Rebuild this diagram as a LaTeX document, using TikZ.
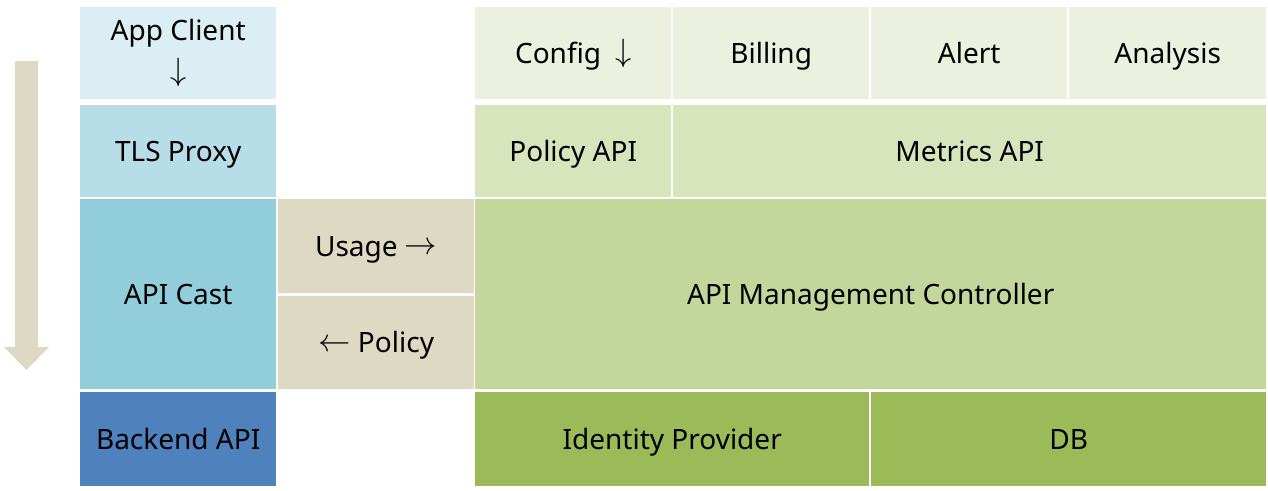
\documentclass[tikz,border=0pt]{standalone}
\usepackage{fontspec}
\usepackage{graphicx}
\setmainfont{Noto Sans}
\usetikzlibrary{positioning}
\definecolor{clientblue}{HTML}{DAEEF3}
\definecolor{proxyblue}{HTML}{B7DDE8}
\definecolor{castblue}{HTML}{92CDDC}
\definecolor{backendblue}{HTML}{4F81BD}
\definecolor{tan}{HTML}{DDD9C3}
\definecolor{greenA}{HTML}{EBF1DE}
\definecolor{greenB}{HTML}{D7E4BC}
\definecolor{greenC}{HTML}{C3D69B}
\definecolor{greenD}{HTML}{9BBB59}
\newcommand{\flowarr}[1]{\raisebox{0.1ex}{\scalebox{1.3}{$#1$}}}
\tikzset{
  cell/.style={anchor=north west, inner sep=0pt, align=center,
    font=\fontsize{28}{36}\selectfont},
  onerow/.style={text height=25pt, text depth=5pt},
}

\begin{document}
\begin{tikzpicture}[x=1pt,y=-1pt]
		\useasboundingbox (0,0) rectangle (1268,490);
		% flow arrow
		\fill[tan] (15,61) -- (38,61) -- (38,347) -- (49,347) -- (26.5,370)
			-- (4,347) -- (15,347) -- cycle;
		% gateway side
		\node (client) [cell, fill=clientblue, minimum width=196, minimum height=92] at (80,7) {App Client\\[6pt]\flowarr{\downarrow}};
		\node (proxy) [cell, onerow, fill=proxyblue, minimum width=196, minimum height=92] at (80,105) {TLS Proxy};
		\node (cast) [cell, onerow, fill=castblue, minimum width=196, minimum height=190] at (80,199) {API Cast};
		\node (backend) [cell, onerow, fill=backendblue, minimum width=196, minimum height=94] at (80,392) {Backend API};
		\node (usage) [cell, onerow, fill=tan, minimum width=196, minimum height=94] at (278,199) {Usage \flowarr{\rightarrow}};
		\node (policy) [cell, onerow, fill=tan, minimum width=196, minimum height=93] at (278,296) {\flowarr{\leftarrow} Policy};
		% management side
		\node (config) [cell, onerow, fill=greenA, minimum width=196, minimum height=92] at (475,7) {Config\hspace{14pt}\flowarr{\downarrow}};
		\node (billing) [cell, onerow, fill=greenA, minimum width=196, minimum height=92] at (673,7) {Billing};
		\node (alert) [cell, onerow, fill=greenA, minimum width=196, minimum height=92] at (871,7) {Alert};
		\node (analysis) [cell, onerow, fill=greenA, minimum width=197, minimum height=92] at (1069,7) {Analysis};
		\node (policyapi) [cell, onerow, fill=greenB, minimum width=196, minimum height=92] at (475,105) {Policy API};
		\node (metricsapi) [cell, onerow, fill=greenB, minimum width=593, minimum height=92] at (673,105) {Metrics API};
		\node (controller) [cell, onerow, fill=greenC, minimum width=791, minimum height=190] at (475,199) {API Management Controller};
		\node (idp) [cell, onerow, fill=greenD, minimum width=394, minimum height=94] at (475,392) {Identity Provider};
		\node (db) [cell, onerow, fill=greenD, minimum width=395, minimum height=94] at (871,392) {DB};
	\end{tikzpicture}
\end{document}
